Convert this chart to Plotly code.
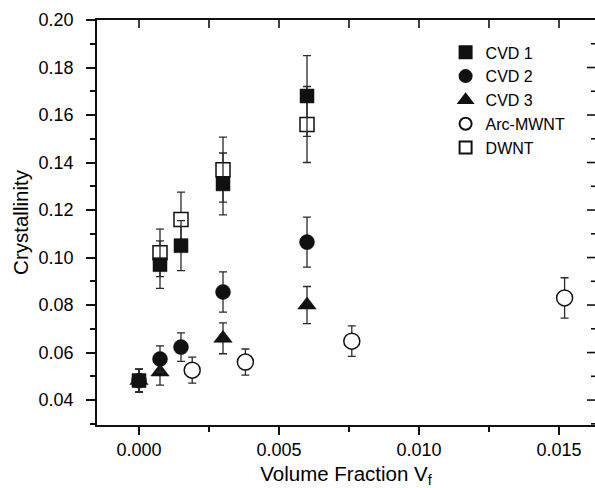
import plotly.graph_objects as go

# ---- data ----
cvd1_x = [0.0, 0.00075, 0.0015, 0.003, 0.006]
cvd1_y = [0.0482, 0.097, 0.105, 0.131, 0.168]
cvd1_e = [0.0048, 0.010, 0.0105, 0.013, 0.017]

cvd2_x = [0.0, 0.00075, 0.0015, 0.003, 0.006]
cvd2_y = [0.0482, 0.0573, 0.0623, 0.0855, 0.1065]
cvd2_e = [0.0048, 0.0055, 0.006, 0.0085, 0.0105]

cvd3_x = [0.0, 0.00075, 0.003, 0.006]
cvd3_y = [0.0482, 0.0518, 0.066, 0.080]
cvd3_e = [0.0048, 0.0055, 0.0065, 0.0078]

arc_x = [0.0019, 0.0038, 0.0076, 0.0152]
arc_y = [0.0526, 0.056, 0.0648, 0.083]
arc_e = [0.0055, 0.0055, 0.0064, 0.0085]

dwnt_x = [0.00075, 0.0015, 0.003, 0.006]
dwnt_y = [0.102, 0.116, 0.137, 0.156]
dwnt_e = [0.010, 0.0115, 0.0137, 0.016]

x_tickvals = [0.0, 0.005, 0.010, 0.015]
x_ticktext = ["0.000", "0.005", "0.010", "0.015"]
top_tickvals = [0.0, 0.0025, 0.005, 0.0075, 0.010, 0.0125, 0.015]
right_major = [0.04, 0.06, 0.08, 0.10, 0.12, 0.14, 0.16, 0.18]
right_minor = [0.03, 0.05, 0.07, 0.09, 0.11, 0.13, 0.15, 0.17, 0.19]

FONT = "Liberation Sans, Arial, sans-serif"
INK = "#111111"
ERR = "#2a2a2a"
LW = 1.6

W, H = 595, 488
ML, MR, MT, MB = 97, 0, 20, 63
PW, PH = W - ML - MR, H - MT - MB


def err(e):
    return dict(type="data", array=e, visible=True, color=ERR, thickness=1.3, width=4)


fig = go.Figure()

# draw order: open squares under filled squares
fig.add_trace(go.Scatter(x=dwnt_x, y=dwnt_y, error_y=err(dwnt_e), mode="markers", name="DWNT",
                         legendrank=5,
                         marker=dict(symbol="square", size=14, color="white", line=dict(color=INK, width=1.5))))
fig.add_trace(go.Scatter(x=arc_x, y=arc_y, error_y=err(arc_e), mode="markers", name="Arc-MWNT",
                         legendrank=4,
                         marker=dict(symbol="circle", size=16, color="white", line=dict(color=INK, width=1.5))))
fig.add_trace(go.Scatter(x=cvd3_x, y=cvd3_y, error_y=err(cvd3_e), mode="markers", name="CVD 3",
                         legendrank=3,
                         marker=dict(symbol="triangle-up", size=16, color=INK, line=dict(color=INK, width=0.5))))
fig.add_trace(go.Scatter(x=cvd2_x, y=cvd2_y, error_y=err(cvd2_e), mode="markers", name="CVD 2",
                         legendrank=2,
                         marker=dict(symbol="circle", size=15, color=INK, line=dict(color=INK, width=0.5))))
fig.add_trace(go.Scatter(x=cvd1_x, y=cvd1_y, error_y=err(cvd1_e), mode="markers", name="CVD 1",
                         legendrank=1,
                         marker=dict(symbol="square", size=14, color=INK, line=dict(color=INK, width=0.5))))

XR = [-0.0015, 0.016286]
YR = [0.0295, 0.20]

# inward-pointing frame ticks on the top and right edges (from the tick lists)
tick_line = dict(color=INK, width=LW)
for v in top_tickvals:
    fig.add_shape(type="line", xref="x", yref="y domain", x0=v, x1=v, y0=1, y1=1 - 8 / PH,
                  line=tick_line, layer="above")
for v in right_major:
    fig.add_shape(type="line", xref="x domain", yref="y", x0=1, x1=1 - 8 / PW, y0=v, y1=v,
                  line=tick_line, layer="above")
for v in right_minor:
    fig.add_shape(type="line", xref="x domain", yref="y", x0=1, x1=1 - 4 / PW, y0=v, y1=v,
                  line=tick_line, layer="above")

fig.update_layout(
    width=W, height=H,
    margin=dict(l=ML, r=MR, t=MT, b=MB, autoexpand=False),
    paper_bgcolor="white", plot_bgcolor="white",
    font=dict(family=FONT, size=18, color="black"),
    showlegend=True,
    legend=dict(x=0.70, y=0.962, xanchor="left", yanchor="top",
                bgcolor="rgba(0,0,0,0)", borderwidth=0,
                font=dict(family=FONT, size=16, color="black"),
                itemsizing="constant", tracegroupgap=0),
    xaxis=dict(range=XR, automargin=False,
               showgrid=False, zeroline=False,
               showline=True, mirror=True, linecolor=INK, linewidth=LW,
               ticks="outside", ticklen=8, tickwidth=LW, tickcolor=INK,
               tickvals=x_tickvals, ticktext=x_ticktext,
               ticklabelstandoff=0,
               minor=dict(ticks="outside", ticklen=5, tickwidth=LW, tickcolor=INK,
                          tick0=0, dtick=0.0025, showgrid=False),
               title=dict(text="Volume Fraction V<sub>f</sub>", font=dict(size=20.5), standoff=19)),
    yaxis=dict(range=YR, automargin=False,
               showgrid=False, zeroline=False,
               showline=True, mirror=True, linecolor=INK, linewidth=LW,
               ticks="outside", ticklen=9, tickwidth=LW, tickcolor=INK,
               tick0=0.04, dtick=0.02, tickformat=".2f",
               ticklabelstandoff=9,
               minor=dict(ticks="outside", ticklen=5, tickwidth=LW, tickcolor=INK,
                          tick0=0.03, dtick=0.01, showgrid=False),
               title=dict(text="Crystallinity", font=dict(size=20.5), standoff=4)),
)

fig.write_html(
    "out.html",
    config={"displayModeBar": False},
    post_script="document.body.style.margin='0';document.body.style.padding='0';"
                "document.body.style.overflow='hidden';",
)
